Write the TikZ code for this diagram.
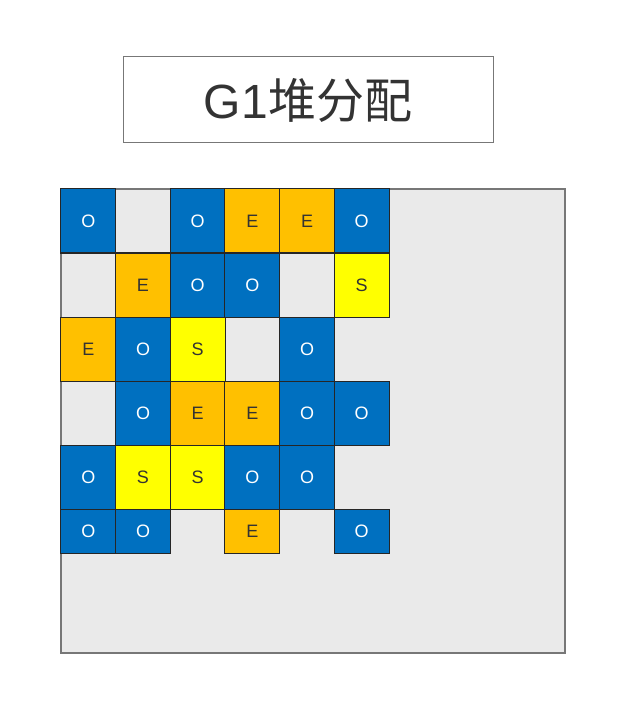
\documentclass[tikz,border=0pt]{standalone}
\usepackage{fontspec}
\setmainfont{Liberation Sans}
\newfontfamily\cjk{Noto Sans CJK SC}
\usepackage{xcolor}
\definecolor{oblue}{HTML}{0070C0}
\definecolor{eorange}{HTML}{FFC000}
\definecolor{syellow}{HTML}{FFFF00}
\definecolor{heapgrey}{HTML}{EAEAEA}
\definecolor{edgegrey}{HTML}{777777}
\definecolor{inkgrey}{HTML}{333333}
\tikzstyle{title} = [rectangle, minimum width=370pt, minimum height=86pt, inner sep=0pt, draw=edgegrey, line width=1pt, text=inkgrey, font=\fontsize{48}{48}\selectfont]
\tikzstyle{heap} = [rectangle, minimum width=504pt, minimum height=464pt, inner sep=0pt, fill=heapgrey, draw=edgegrey, line width=1.5pt]
\tikzstyle{region} = [rectangle, minimum width=54.67pt, minimum height=64pt, inner sep=0pt, outer sep=0pt, draw=black!85, line width=1pt, font=\fontsize{18}{18}\selectfont]
\tikzstyle{old} = [region, fill=oblue, text=white]
\tikzstyle{eden} = [region, fill=eorange, text=inkgrey]
\tikzstyle{surv} = [region, fill=syellow, text=inkgrey]
\tikzstyle{lastrow} = [minimum height=44pt]

\begin{document}
\begin{tikzpicture}[x=1pt, y=-1pt]
	\useasboundingbox (0,0) rectangle (630,708);
	
	\node(t) at (308, 100) [title] {G1{\cjk 堆分配}};
	\node(h) at (313, 421) [heap] {};
	
	% row 1
	\node(r1c1) at (88.3, 221) [old] {O};
	\node(r1c3) at (197.7, 221) [old] {O};
	\node(r1c4) at (252.3, 221) [eden] {E};
	\node(r1c5) at (307, 221) [eden] {E};
	\node(r1c6) at (361.7, 221) [old] {O};
	% row 2
	\node(r2c2) at (143, 285) [eden] {E};
	\node(r2c3) at (197.7, 285) [old] {O};
	\node(r2c4) at (252.3, 285) [old] {O};
	\node(r2c6) at (361.7, 285) [surv] {S};
	% row 3
	\node(r3c1) at (88.3, 349) [eden] {E};
	\node(r3c2) at (143, 349) [old] {O};
	\node(r3c3) at (197.7, 349) [surv] {S};
	\node(r3c5) at (307, 349) [old] {O};
	% row 4
	\node(r4c2) at (143, 413) [old] {O};
	\node(r4c3) at (197.7, 413) [eden] {E};
	\node(r4c4) at (252.3, 413) [eden] {E};
	\node(r4c5) at (307, 413) [old] {O};
	\node(r4c6) at (361.7, 413) [old] {O};
	% row 5
	\node(r5c1) at (88.3, 477) [old] {O};
	\node(r5c2) at (143, 477) [surv] {S};
	\node(r5c3) at (197.7, 477) [surv] {S};
	\node(r5c4) at (252.3, 477) [old] {O};
	\node(r5c5) at (307, 477) [old] {O};
	% row 6
	\node(r6c1) at (88.3, 531) [old, lastrow] {O};
	\node(r6c2) at (143, 531) [old, lastrow] {O};
	\node(r6c4) at (252.3, 531) [eden, lastrow] {E};
	\node(r6c6) at (361.7, 531) [old, lastrow] {O};
\end{tikzpicture}
\end{document}
